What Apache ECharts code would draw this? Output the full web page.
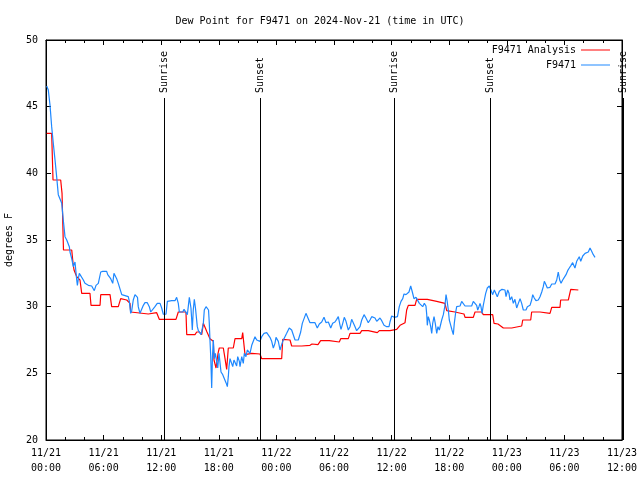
<!DOCTYPE html>
<html>
<head>
<meta charset="utf-8">
<script src="https://cdn.jsdelivr.net/npm/echarts@6/dist/echarts.min.js"></script>
<style>html,body{margin:0;padding:0;background:#fff}#c{width:640px;height:480px}</style>
</head>
<body>
<div id="c"></div>
<script>
const tickLabels = ['11/21\n00:00','11/21\n06:00','11/21\n12:00','11/21\n18:00','11/22\n00:00','11/22\n06:00','11/22\n12:00','11/22\n18:00','11/23\n00:00','11/23\n06:00','11/23\n12:00'];
const sunHours = [12.32, 22.33, 36.28, 46.25, 60.14];
const sunLabels = ['Sunrise','Sunset','Sunrise','Sunset','Sunrise'];

const redHours = [0.07,0.59,0.73,1.53,1.67,1.82,2.68,2.81,2.92,3.2,3.33,3.54,3.72,4.58,4.69,5.63,5.7,6.67,6.84,7.53,7.78,8.41,8.75,8.82,8.93,10.66,10.83,11.53,11.8,13.54,13.78,14.58,14.66,15.52,15.7,15.97,16.22,16.39,16.77,17.08,17.43,17.5,17.71,17.92,18.05,18.47,18.65,18.82,18.99,19.51,19.69,20.39,20.49,20.66,20.73,21.43,21.59,22.29,22.47,24.55,24.66,25.42,25.59,26.64,27.5,27.71,28.33,28.61,29.51,29.69,30.55,30.7,31.49,31.67,32.71,32.89,33.57,33.68,34.51,34.72,35.83,35.94,36.53,36.88,37.4,37.57,37.74,38.44,38.61,39.72,40.7,41.56,41.74,42.6,42.78,43.54,43.65,44.51,44.69,45.39,45.55,46.53,46.67,47.08,47.64,48.51,48.68,49.55,49.66,50.49,50.59,51.46,51.56,52.5,52.68,53.54,53.61,54.41,54.66,55.45];
const redValues = [43.0,43.0,39.5,39.5,38.5,34.25,34.25,33.3,32.75,32.25,32.2,32.0,31.0,31.0,30.1,30.1,30.9,30.9,30.0,30.0,30.6,30.5,30.25,29.6,29.45,29.45,29.55,29.55,29.05,29.05,29.6,29.6,27.9,27.9,28.1,28.1,27.9,28.75,28.1,27.6,27.4,26.0,25.4,26.5,26.9,26.9,26.1,25.3,26.9,26.9,27.6,27.6,28.05,28.0,26.4,26.5,26.45,26.45,26.1,26.1,27.55,27.5,27.05,27.05,27.1,27.2,27.15,27.45,27.45,27.35,27.35,27.6,27.6,28.0,28.0,28.2,28.2,28.05,28.05,28.2,28.2,28.3,28.3,28.6,28.8,29.75,30.1,30.1,30.55,30.55,30.4,30.25,29.7,29.6,29.45,29.45,29.2,29.2,29.6,29.6,29.4,29.4,28.75,28.7,28.4,28.4,28.55,28.55,29.0,29.0,29.6,29.6,29.5,29.5,29.95,29.95,30.5,30.5,31.3,31.25];

const blueHours = [0.07,0.24,0.42,0.59,0.76,0.94,1.11,1.28,1.46,1.64,1.8,1.98,2.16,2.43,2.5,2.68,2.78,2.84,3.02,3.2,3.27,3.37,3.47,3.61,3.89,4.06,4.41,4.76,4.93,5.03,5.21,5.45,5.57,5.7,5.91,6.32,6.43,6.74,6.84,6.95,7.08,7.19,7.36,7.53,7.71,7.89,8.05,8.57,8.68,8.82,8.93,9.09,9.27,9.45,9.53,9.61,9.79,9.97,10.14,10.31,10.55,10.76,10.91,11.11,11.35,11.59,11.88,12.05,12.22,12.5,12.64,12.74,13.09,13.26,13.44,13.61,13.72,13.78,13.89,14.03,14.24,14.38,14.58,14.72,14.82,14.93,15.05,15.1,15.18,15.24,15.34,15.45,15.57,15.76,15.87,16.04,16.15,16.32,16.39,16.49,16.67,16.84,16.93,17.01,17.08,17.16,17.26,17.34,17.43,17.53,17.64,17.78,17.89,18.02,18.23,18.41,18.54,18.75,18.89,18.99,19.06,19.17,19.27,19.45,19.58,19.72,19.86,19.97,20.14,20.21,20.39,20.55,20.66,20.83,20.97,21.15,21.25,21.43,21.59,21.77,21.95,22.11,22.29,22.47,22.71,22.99,23.16,23.33,23.51,23.68,23.85,23.96,24.2,24.38,24.48,24.66,24.82,25.07,25.34,25.59,25.76,25.94,26.28,26.53,26.7,26.88,27.08,27.22,27.32,27.5,28.02,28.26,28.47,28.72,28.96,29.17,29.41,29.66,29.86,30.1,30.28,30.45,30.63,30.73,30.91,31.07,31.25,31.49,31.67,31.84,32.01,32.19,32.36,32.53,32.71,32.89,33.13,33.33,33.57,33.75,33.93,34.09,34.27,34.45,34.61,34.79,34.97,35.21,35.49,35.73,35.83,36.01,36.18,36.28,36.46,36.61,36.8,36.98,37.16,37.29,37.5,37.64,37.81,37.99,38.16,38.33,38.54,38.72,38.89,39.06,39.24,39.41,39.58,39.66,39.72,39.82,39.93,40.07,40.18,40.28,40.42,40.55,40.7,40.83,40.97,41.04,41.22,41.39,41.56,41.67,41.77,41.91,42.01,42.16,42.29,42.43,42.53,42.68,42.78,43.13,43.3,43.47,43.65,44.34,44.51,44.69,44.86,44.97,45.1,45.21,45.31,45.42,45.55,45.66,45.8,45.97,46.18,46.35,46.53,46.7,46.88,47.01,47.22,47.36,47.5,47.81,47.92,48.09,48.23,48.33,48.51,48.68,48.85,49.03,49.2,49.38,49.55,49.72,50.0,50.14,50.42,50.59,50.7,50.86,51.04,51.28,51.46,51.64,51.8,51.91,52.08,52.22,52.5,52.68,53.02,53.2,53.36,53.51,53.65,53.82,53.99,54.17,54.34,54.51,54.69,54.86,54.93,55.1,55.28,55.39,55.55,55.7,55.91,56.15,56.32,56.49,56.67,56.84,57.01,57.19];
const blueValues = [46.55,46.25,45.1,43.5,42.25,41.0,39.75,38.4,38.3,37.75,36.5,35.25,35.0,34.5,34.1,33.6,33.25,33.0,33.35,32.0,31.6,32.1,32.5,32.6,32.0,31.75,31.6,31.55,31.4,31.2,31.6,31.75,31.9,32.6,32.65,32.65,32.4,32.1,32.0,31.75,32.5,32.6,32.1,31.75,31.6,30.9,30.8,30.75,30.4,29.5,29.7,30.5,30.9,31.05,30.7,30.0,29.5,29.6,30.1,30.3,30.3,30.0,29.6,29.5,30.0,30.25,30.25,29.9,29.43,29.43,30.4,30.5,30.45,30.55,30.45,30.7,30.65,30.25,29.6,29.55,29.6,29.8,29.85,29.4,30.0,30.7,30.65,29.9,29.0,28.25,29.75,30.55,29.9,28.5,28.2,28.1,27.9,27.8,28.75,29.75,30.0,30.05,29.75,28.75,27.5,26.25,23.9,26.25,27.5,26.1,26.5,26.6,25.4,26.5,25.1,24.9,24.75,24.3,24.0,24.75,25.5,26.1,26.0,25.5,26.0,26.1,25.55,26.25,25.9,25.5,26.25,25.75,26.5,26.25,26.75,26.6,26.5,27.1,27.25,27.75,27.5,27.5,27.4,27.75,28.0,28.05,28.1,27.7,27.4,26.9,27.25,27.7,27.4,26.75,27.0,27.4,27.55,28.0,28.4,28.25,28.35,27.5,27.5,28.1,28.75,28.85,29.5,29.55,29.1,28.8,28.8,28.4,28.7,28.85,29.2,28.8,28.85,28.4,28.75,28.85,29.05,29.25,28.6,28.3,28.75,29.2,28.9,28.25,28.5,29.05,29.0,28.5,28.2,28.15,28.5,29.0,29.4,29.15,28.8,29.0,29.25,29.4,29.15,28.9,29.0,29.15,28.95,28.6,28.5,28.5,28.85,29.3,29.45,29.2,29.05,29.25,30.0,30.4,30.6,30.95,30.9,31.0,31.1,31.55,31.1,30.6,30.7,30.6,30.25,30.3,30.0,30.25,30.05,29.4,28.6,29.25,29.0,28.5,28.0,28.75,29.25,28.75,28.0,28.5,28.25,28.25,29.0,29.4,30.1,30.9,30.5,29.75,29.0,28.6,28.25,27.9,28.75,29.6,30.0,30.05,30.4,30.55,30.05,30.05,30.4,30.55,30.1,29.75,30.0,30.25,30.0,29.5,30.1,30.5,31.0,31.4,31.55,31.4,30.9,31.25,31.1,30.75,31.15,31.0,31.3,31.25,30.75,31.25,31.0,30.5,30.75,30.25,30.55,29.9,30.25,30.6,30.25,29.75,29.75,30.0,30.1,30.5,30.9,30.65,30.45,30.5,30.75,31.1,31.5,31.9,31.65,31.4,31.45,31.7,31.7,32.0,32.6,32.0,31.75,32.0,32.2,32.4,32.7,32.9,33.1,33.3,33.4,32.9,33.4,33.55,33.75,33.4,33.8,34.0,34.05,34.1,34.4,34.15,33.9,33.7];

const sunLineTop = 45.65;
const FONT = '"DejaVu Sans Mono", monospace';

const zip = (a, b) => a.map((v, i) => [v, b[i]]);

const chart = echarts.init(document.getElementById('c'), null, {renderer: 'canvas'});

const xBase = {
  type: 'value', min: 0, max: 60, interval: 6,
  axisLine: {show: true, onZero: false, lineStyle: {color: '#000', width: 1}},
  axisTick: {show: true, inside: true, length: 5, lineStyle: {color: '#000'}},
  minorTick: {show: true, splitNumber: 3, length: 3, lineStyle: {color: '#000'}},
  splitLine: {show: false}
};
const yBase = {
  type: 'value', min: 20, max: 50, interval: 5,
  axisLine: {show: true, onZero: false, lineStyle: {color: '#000', width: 1}},
  axisTick: {show: true, inside: true, length: 5, lineStyle: {color: '#000'}},
  splitLine: {show: false}
};

chart.setOption({
  animation: false,
  backgroundColor: '#fff',
  title: {
    text: 'Dew Point for F9471 on 2024-Nov-21 (time in UTC)',
    left: 'center', top: 11,
    textStyle: {fontFamily: FONT, fontSize: 10, fontWeight: 'normal', color: '#000'}
  },
  legend: {
    orient: 'vertical', right: 25, top: 40, align: 'right',
    itemWidth: 29, itemHeight: 1, itemGap: 5, icon: 'rect',
    textStyle: {fontFamily: FONT, fontSize: 10, color: '#000', padding: [0, 0, 0, 0]},
    data: ['F9471 Analysis', 'F9471']
  },
  grid: {left: 46, right: 18, top: 40, bottom: 40, show: true, borderColor: '#000', borderWidth: 1,
         containLabel: false, outerBoundsMode: 'none'},
  xAxis: [
    Object.assign({}, xBase, {
      position: 'bottom',
      axisLabel: {
        fontFamily: FONT, fontSize: 10, color: '#000', lineHeight: 15, margin: 6,
        formatter: (v) => tickLabels[Math.round(v / 6)]
      }
    }),
    Object.assign({}, xBase, {position: 'top', axisLabel: {show: false}})
  ],
  yAxis: [
    Object.assign({}, yBase, {
      position: 'left',
      name: 'degrees F', nameLocation: 'middle', nameGap: 32, nameRotate: 90,
      nameTextStyle: {fontFamily: FONT, fontSize: 10, color: '#000'},
      axisLabel: {fontFamily: FONT, fontSize: 10, color: '#000', margin: 8}
    }),
    Object.assign({}, yBase, {position: 'right', axisLabel: {show: false}})
  ],
  series: [
    {
      name: 'F9471 Analysis', type: 'line', xAxisIndex: 0, yAxisIndex: 0,
      data: zip(redHours, redValues), showSymbol: false, symbol: 'none',
      color: '#ff0000', lineStyle: {color: '#ff0000', width: 1.2}, z: 3
    },
    {
      name: 'F9471', type: 'line', xAxisIndex: 0, yAxisIndex: 0,
      data: zip(blueHours, blueValues), showSymbol: false, symbol: 'none',
      color: '#1e88ff', lineStyle: {color: '#1e88ff', width: 1.2}, z: 4
    },
    {
      name: 'sun', type: 'custom', xAxisIndex: 0, yAxisIndex: 0, z: 5,
      clip: false, silent: true,
      data: sunHours.map((h) => [h, 20]),
      encode: {x: 0, y: 1},
      renderItem: (params, api) => {
        const h = api.value(0);
        const p0 = api.coord([h, 20]);
        const p1 = api.coord([h, sunLineTop]);
        const px = Math.round(p0[0]) + 0.5;
        return {
          type: 'group',
          children: [
            {type: 'line', shape: {x1: px, y1: p0[1], x2: px, y2: p1[1]},
             style: {stroke: '#000', lineWidth: 1}},
            {type: 'text', x: px, y: p1[1] - 5, rotation: Math.PI / 2,
             style: {text: sunLabels[params.dataIndex], fill: '#000',
                     font: '10px ' + FONT, align: 'left', verticalAlign: 'middle'}}
          ]
        };
      }
    }
  ]
});
</script>
</body>
</html>
